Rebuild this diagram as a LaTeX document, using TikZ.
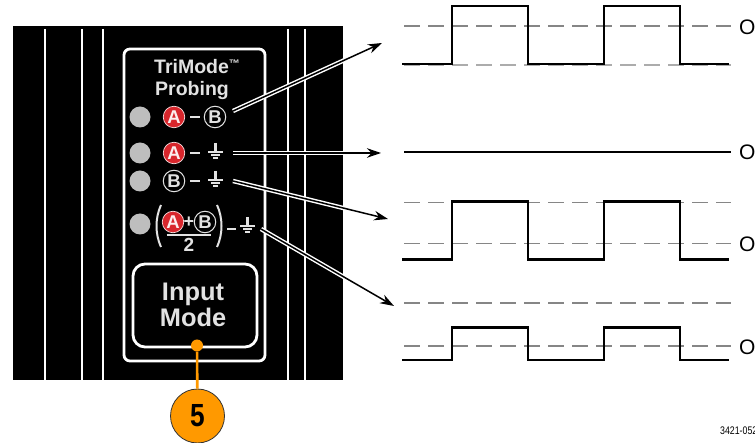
\documentclass[tikz,border=0pt]{standalone}
\usepackage{fontspec}
\setmainfont{Liberation Sans}
\usetikzlibrary{arrows.meta}
\definecolor{ledgray}{HTML}{BEBEBE}
\definecolor{paneltext}{HTML}{E2E2E2}
\definecolor{redA}{HTML}{D8262C}
\definecolor{callout}{HTML}{FF9900}
\tikzset{
  panelrule/.style={white,line width=1.3pt},
  frame/.style={draw=white,line width=2.8pt},
  led/.style={circle,fill=ledgray,minimum size=21pt,inner sep=0pt},
  paneltxt/.style={text=paneltext,inner sep=0pt,anchor=base},
  circA/.style={circle,fill=redA,draw=white!85!redA,line width=.7pt,minimum size=21.5pt,inner sep=0pt,text=white!92!redA,font=\fontsize{18.5}{18}\selectfont\bfseries},
  circB/.style={circle,fill=black,draw=paneltext,line width=1pt,minimum size=21.5pt,inner sep=0pt,text=paneltext,font=\fontsize{18.5}{18}\selectfont\bfseries},
  minusbar/.style={paneltext,line width=2.4pt},
  gndline/.style={paneltext,line width=2.1pt},
  casing/.style={white,line width=4.4pt},
  arrowcore/.style={black,line width=1.5pt,-{Stealth[length=14pt,width=9.5pt]}},
  wavesolid/.style={black,line width=2.5pt,line join=miter},
  dashref/.style={gray!95,line width=1.1pt,dash pattern=on 16pt off 8pt},
  dashlow/.style={gray!65,line width=1.3pt,dash pattern=on 16pt off 8pt},
  zerolabel/.style={inner sep=0pt,anchor=base west,font=\fontsize{21}{21}\selectfont},
}
\newcommand{\gndsym}[2]{%
  \draw[gndline,line width=2.4pt] (#1,#2-9) -- (#1,#2);
  \draw[gndline] (#1-7.5,#2) -- (#1+7.5,#2);
  \draw[gndline] (#1-4.5,#2+3.2) -- (#1+4.5,#2+3.2);
  \draw[gndline] (#1-2.2,#2+6.4) -- (#1+2.2,#2+6.4);
}
\newcommand{\squarewave}[2]{%
  \draw[wavesolid] (402,#2) -- (452,#2) -- (452,#1) -- (528,#1) -- (528,#2) -- (604,#2) -- (604,#1) -- (680,#1) -- (680,#2) -- (729,#2);
}
\begin{document}
\begin{tikzpicture}[x=1pt,y=-1pt]
\useasboundingbox (0,0) rectangle (755,443);
% panel
\fill[black] (13,26) rectangle (343,380);
\foreach \xx in {45,82,103,288,305}
  \draw[panelrule] (\xx,29) -- (\xx,380);
\draw[frame,rounded corners=6pt] (124,49) rectangle (265,361);
\draw[frame,rounded corners=12pt] (133,264) rectangle (257,347);
% title
\node[paneltxt,anchor=base west,font=\fontsize{19.5}{20}\selectfont\bfseries] (title1) at (154,74) {TriMode\raisebox{6pt}{\fontsize{11}{11}\selectfont ™}};
\node[paneltxt,font=\fontsize{19.5}{20}\selectfont\bfseries] (title2) at (192,96) {Probing};
\node[paneltxt,font=\fontsize{25.4}{26}\selectfont\bfseries] (input) at (193,301) {Input};
\node[paneltxt,font=\fontsize{25.4}{26}\selectfont\bfseries] (mode) at (193,327) {Mode};
% LEDs
\node[led] (led1) at (140,117) {};
\node[led] (led2) at (140,153) {};
\node[led] (led3) at (140,181) {};
\node[led] (led4) at (140,224) {};
% row 1
\node[circA] (a1) at (174,117) {A};
\draw[minusbar] (190,117) -- (200,117);
\node[circB] (b1) at (215,117) {B};
% row 2
\node[circA] (a2) at (174,153) {A};
\draw[minusbar] (190,153) -- (200,153);
\gndsym{215.5}{152}
% row 3
\node[circB] (b3) at (174,181) {B};
\draw[minusbar] (190,181) -- (200,181);
\gndsym{215.5}{180}
% row 4
\node[circA] (a4) at (173,222) {A};
\node[paneltxt,font=\fontsize{18}{18}\selectfont\bfseries] (plus) at (189,228) {+};
\node[circB] (b4) at (205,222) {B};
\draw[paneltext,line width=2.2pt] (166.5,235) -- (211,235);
\node[paneltxt,font=\fontsize{19}{19}\selectfont\bfseries] (two) at (189,252) {2};
\draw[paneltext,line width=2pt] (161,205) .. controls (155,218) and (155,234) .. (161,247);
\draw[paneltext,line width=2pt] (217,205) .. controls (223,218) and (223,234) .. (217,247);
\draw[minusbar] (227,229) -- (236,229);
\gndsym{247.5}{226}
% connector anchors
\coordinate (s1) at (233,111);
\coordinate (t1) at (382,43);
\coordinate (s2) at (233,153);
\coordinate (t2) at (381,153);
\coordinate (s3) at (233,181);
\coordinate (t3) at (388,219);
\coordinate (s4) at (261,229);
\coordinate (t4) at (394,306);
% connectors
\begin{scope}
  \clip (13,26) rectangle (343,380);
  \draw[casing] (s1) -- (t1);
  \draw[casing] (s2) -- (t2);
  \draw[casing] (s3) -- (t3);
  \draw[casing] (s4) -- (t4);
\end{scope}
\draw[arrowcore] (s1) -- (t1);
\draw[arrowcore] (s2) -- (t2);
\draw[arrowcore] (s3) -- (t3);
\draw[arrowcore] (s4) -- (t4);
% callout
\node[circle,fill=callout,minimum size=12pt,inner sep=0pt] (dot) at (197,345.5) {};
\node[circle,fill=callout,draw=black!80,line width=.8pt,minimum size=54pt,inner sep=0pt] (five) at (197.5,416) {};
\draw[callout,line width=2.6pt] (dot) -- (five);
\node[inner sep=0pt,anchor=base,xscale=.82,font=\fontsize{32}{32}\selectfont\bfseries] (fivetxt) at (197.5,426) {5};
% waveforms
\draw[dashref] (404,26) -- (731,26);
\draw[dashlow] (404,65) -- (731,65);
\squarewave{6}{64}
\node[zerolabel] (z1) at (739,34.5) {O};
\draw[wavesolid] (404,152) -- (731,152);
\node[zerolabel] (z2) at (739,160) {O};
\draw[dashref] (404,202.7) -- (731,202.7);
\draw[dashref] (404,243.3) -- (731,243.3);
\squarewave{201.7}{259.3}
\node[zerolabel] (z3) at (739,252) {O};
\draw[dashref] (404,303) -- (731,303);
\draw[dashref] (404,346) -- (731,346);
\squarewave{327.7}{360}
\node[zerolabel] (z4) at (739,354.5) {O};
\node[inner sep=0pt,anchor=base west,xscale=.8,font=\fontsize{11}{11}\selectfont] (code) at (720,434) {3421-052};
\end{tikzpicture}
\end{document}
